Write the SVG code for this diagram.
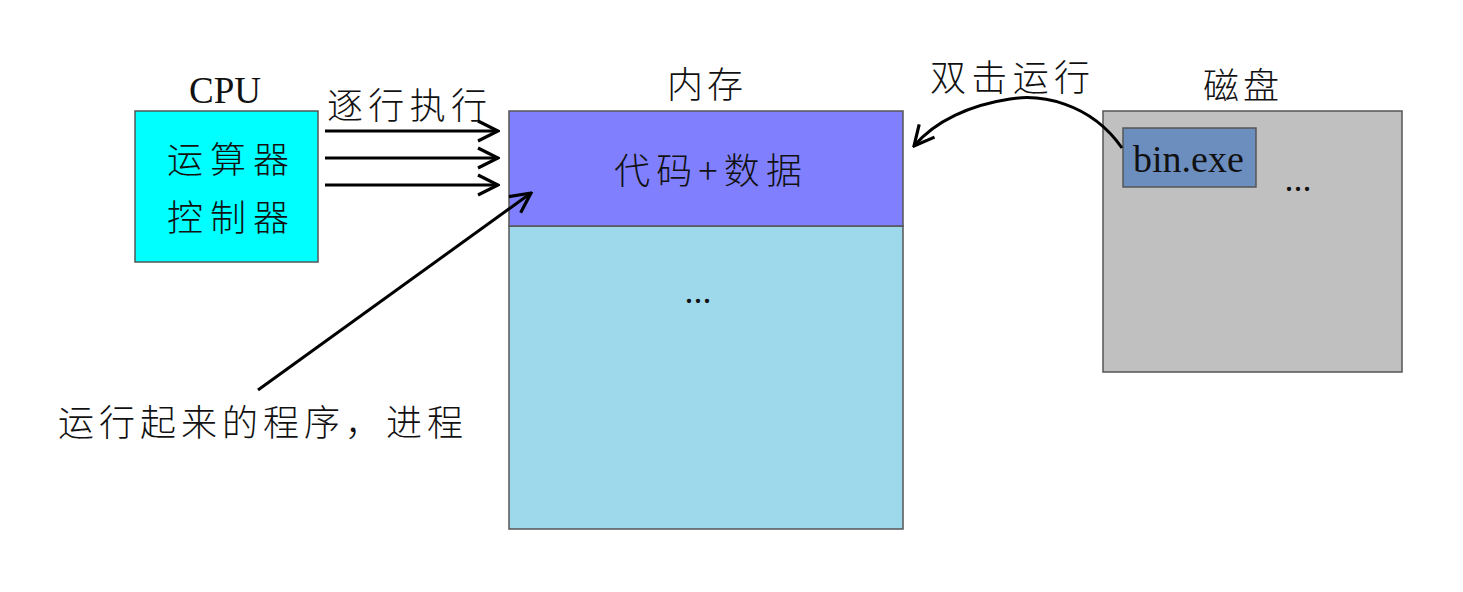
<svg xmlns="http://www.w3.org/2000/svg" width="1463" height="592" viewBox="0 0 1463 592">
<style>
.box{stroke:#555;stroke-width:1.5}
.cjk{font-family:"Noto Sans CJK SC","Noto Sans CJK JP",sans-serif;font-size:36px;fill:#111;font-weight:300}
.lat{font-family:"Liberation Serif",serif;fill:#111}
.conn{fill:none;stroke:#000;stroke-width:3}
</style>
<defs>
<marker id="arr" viewBox="0 0 12 12" refX="11" refY="6" markerWidth="8" markerHeight="8" markerUnits="strokeWidth" orient="auto">
<path d="M1,1 L11,6 L1,11" fill="none" stroke="#000" stroke-width="1.6"/>
</marker>
</defs>
<rect width="1463" height="592" fill="#fff"/>
<g id="cpu">
<rect class="box" x="135" y="111" width="183" height="151" fill="#00FFFF"/>
<text class="lat" x="225" y="103" font-size="37" text-anchor="middle">CPU</text>
<text class="cjk" x="167" y="173" textLength="122" lengthAdjust="spacing">运算器</text>
<text class="cjk" x="167" y="231" textLength="122" lengthAdjust="spacing">控制器</text>
</g>
<g id="memory">
<rect class="box" x="509" y="226" width="394" height="303" fill="#9DD9EA"/>
<rect class="box" x="509" y="111" width="394" height="115" fill="#8080FF"/>
<text class="cjk" x="705" y="98" text-anchor="middle" textLength="76" lengthAdjust="spacing">内存</text>
<text class="cjk" x="614" y="184" textLength="188" lengthAdjust="spacing">代码+数据</text>
<text class="lat" x="698" y="303" font-size="36" text-anchor="middle">...</text>
</g>
<g id="disk">
<rect class="box" x="1103" y="111" width="299" height="261" fill="#C0C0C0"/>
<text class="cjk" x="1241" y="99" text-anchor="middle" textLength="76" lengthAdjust="spacing">磁盘</text>
<rect class="box" x="1123" y="128" width="133" height="59" fill="#6C8EBF"/>
<text class="lat" x="1133" y="172" font-size="38">bin.exe</text>
<text class="lat" x="1298" y="191" font-size="36" text-anchor="middle">...</text>
</g>
<g id="labels">
<text class="cjk" x="327" y="119" textLength="160" lengthAdjust="spacing">逐行执行</text>
<text class="cjk" x="930" y="91" textLength="160" lengthAdjust="spacing">双击运行</text>
<text class="cjk" x="58" y="436" textLength="405" lengthAdjust="spacing">运行起来的程序，进程</text>
</g>
<g id="connectors">
<line class="conn" x1="325" y1="131" x2="498" y2="131" marker-end="url(#arr)"/>
<line class="conn" x1="325" y1="158" x2="498" y2="158" marker-end="url(#arr)"/>
<line class="conn" x1="325" y1="185" x2="498" y2="185" marker-end="url(#arr)"/>
<line class="conn" x1="258" y1="390" x2="531" y2="193" marker-end="url(#arr)"/>
<path class="conn" d="M1122,148 C1090,102 1040,94 1010,99 C970,105 935,121 914,146" marker-end="url(#arr)"/>
</g>
</svg>
